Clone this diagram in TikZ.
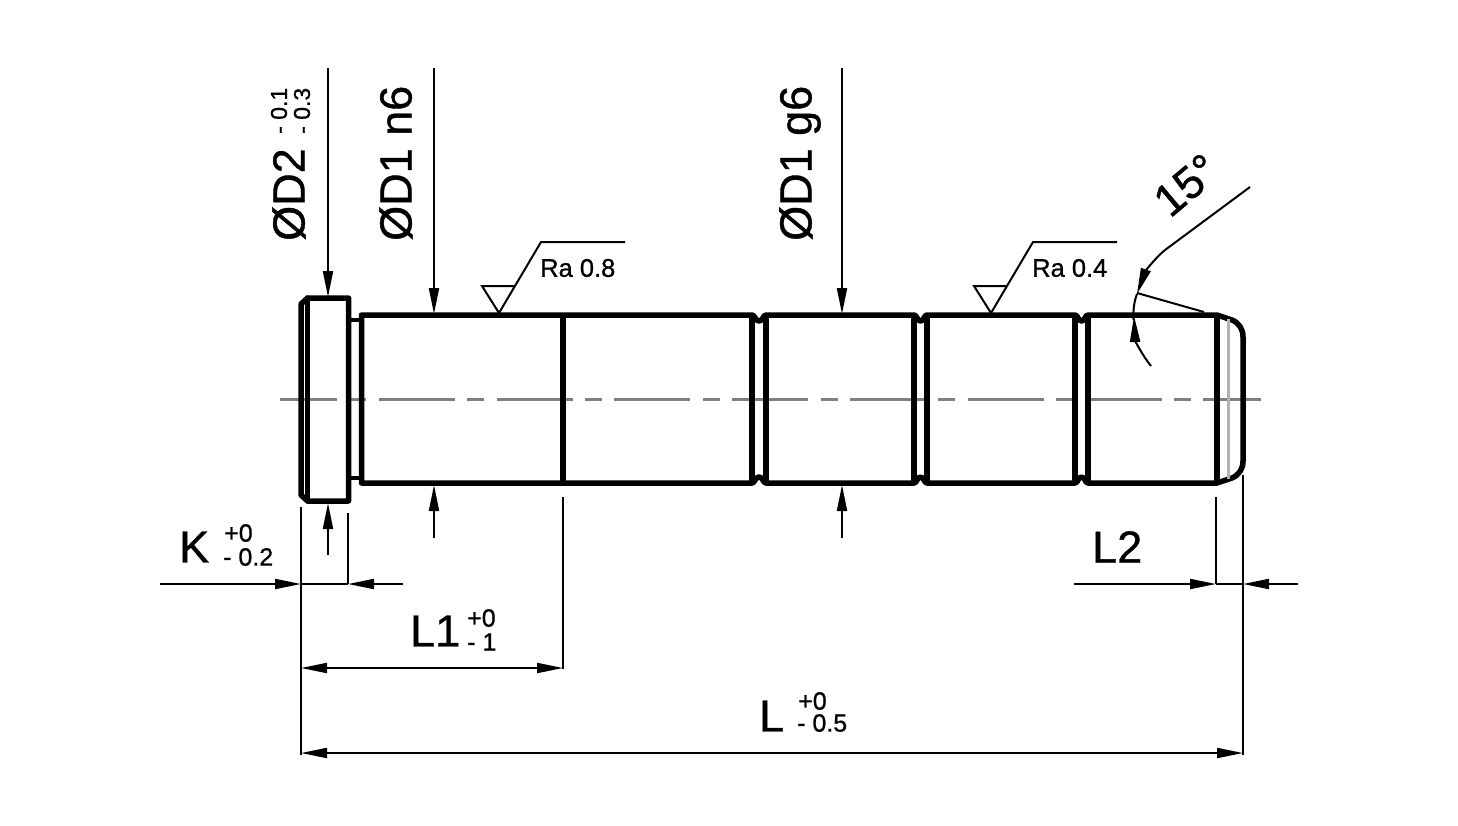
\documentclass[tikz,border=0pt]{standalone}
\usepackage{fontspec}
\setmainfont{Liberation Sans}
\newfontfamily\heavyfont{Liberation Sans}[FakeBold=0.9]
\usetikzlibrary{arrows.meta}
\tikzset{
 outline/.style={line width=5.5pt,line join=round,line cap=round,black},
 thin dim/.style={line width=2pt,black},
 arrowed/.style={thin dim,-{Triangle[length=26pt,width=10pt]}},
 both arrowed/.style={thin dim,{Triangle[length=26pt,width=10pt]}-{Triangle[length=26pt,width=10pt]}},
 big/.style={font=\heavyfont\fontsize{45}{45}\selectfont,inner sep=0pt},
 tol/.style={font=\heavyfont\fontsize{25}{25}\selectfont,inner sep=0pt},
 tolsmall/.style={font=\heavyfont\fontsize{23}{23}\selectfont,inner sep=0pt},
 ra/.style={font=\heavyfont\fontsize{25.5}{25.5}\selectfont,inner sep=0pt,anchor=west},
 axis/.style={line width=3pt,color=black!50},
}
\begin{document}
\begin{tikzpicture}[x=1pt,y=-1pt]
\useasboundingbox (0,0) rectangle (1458,825);
\fill[white] (0,0) rectangle (1458,825);
% centre line
\draw[axis,dash pattern=on 76pt off 12.4pt on 17pt off 12.4pt,dash phase=19pt] (280,399) -- (1261,399);
% head
\draw[outline] (348.5,298) -- (307.5,298) -- (301,304) -- (301,495) -- (307.5,501) -- (348.5,501) -- cycle;
\draw[outline] (307.5,298) -- (307.5,501);
% neck
\draw[line width=3.5pt] (348,320) -- (362,320) (348,478) -- (362,478);
% body
\draw[outline] (361.5,483) -- (361.5,315) -- (752,315) .. controls (755,315) and (755,321) .. (759,321) .. controls (763,321) and (763,315) .. (766,315)
 -- (914,315) .. controls (917,315) and (917,321) .. (920.5,321) .. controls (924,321) and (924,315) .. (927,315)
 -- (1075,315) .. controls (1078,315) and (1078,321) .. (1081.5,321) .. controls (1085,321) and (1085,315) .. (1088,315)
 -- (1217,315) -- (1232,320) .. controls (1239,323) and (1243,329) .. (1243,337)
 -- (1243,461) .. controls (1243,469) and (1239,475) .. (1232,478) -- (1217,483)
 -- (1088,483) .. controls (1085,483) and (1085,477) .. (1081.5,477) .. controls (1078,477) and (1078,483) .. (1075,483)
 -- (927,483) .. controls (924,483) and (924,477) .. (920.5,477) .. controls (917,477) and (917,483) .. (914,483)
 -- (766,483) .. controls (763,483) and (763,477) .. (759,477) .. controls (755,477) and (755,483) .. (752,483)
 -- cycle;
\foreach \x in {563,752,766,914,927,1075,1088,1217}
 \draw[outline] (\x,318) -- (\x,480);
\draw[line width=3pt,color=black!30] (1228,319) -- (1228,479);
% top diameter arrows
\draw[arrowed] (328,68) -- (328,297);
\draw[arrowed] (434,68) -- (434,314);
\draw[arrowed] (842,68) -- (842,314);
% bottom diameter arrows
\draw[arrowed] (328,555) -- (328,503);
\draw[arrowed] (434,538) -- (434,485);
\draw[arrowed] (842,538) -- (842,485);
% extension lines
\draw[thin dim] (301,507) -- (301,755);
\draw[thin dim] (348,513) -- (348,584);
\draw[thin dim] (563,497) -- (563,669);
\draw[thin dim] (1216,497) -- (1216,584);
\draw[thin dim] (1243,475) -- (1243,755);
% K
\draw[arrowed] (160,584) -- (301,584);
\draw[arrowed] (403,584) -- (348,584);
\draw[thin dim] (301,584) -- (348,584);
% L2
\draw[arrowed] (1074,584) -- (1216,584);
\draw[arrowed] (1298,584) -- (1243,584);
\draw[thin dim] (1216,584) -- (1243,584);
% L1, L
\draw[both arrowed] (301,668) -- (563,668);
\draw[both arrowed] (301,753) -- (1243,753);
% angle
\draw[thin dim] (1250,187) -- (1165,250);
\draw[arrowed] (1165,250) .. controls (1155,258) and (1145,272) .. (1137,294);
\draw[thin dim] (1137,294) .. controls (1134,302) and (1133,310) .. (1133.5,320);
\draw[arrowed] (1151,366) .. controls (1142,355) and (1135,340) .. (1134,316);
\draw[thin dim] (1137,293) -- (1204,312);
% roughness
\draw[thin dim] (515,286) -- (482,286) -- (499,313) -- (541,242) -- (625,242);
\draw[thin dim] (1007,286) -- (974,286) -- (991,313) -- (1033,242) -- (1117,242);
\node[ra] (ra1) at (540,268) {Ra 0.8};
\node[ra] (ra2) at (1032,268) {Ra 0.4};
% labels
\node[big,rotate=90,anchor=west] (d2) at (289,241) {ØD2};
\node[tolsmall,rotate=90,anchor=west] (d2a) at (279,134) {- 0.1};
\node[tolsmall,rotate=90,anchor=west] (d2b) at (302,134) {- 0.3};
\node[big,rotate=90,anchor=west] (d1n) at (396,241) {ØD1 n6};
\node[big,rotate=90,anchor=west] (d1g) at (800,241) {ØD1 g6};
\node[big,rotate=40,anchor=west] (ang) at (1160,207) {15°};
\node[big,anchor=west] (k) at (179,547) {K};
\node[tol,anchor=west] (ku) at (224,533) {+0};
\node[tol,anchor=west] (kl) at (223,557) {- 0.2};
\node[big,anchor=west] (l1) at (410,631) {L1};
\node[tol,anchor=west] (l1u) at (467,618) {+0};
\node[tol,anchor=west] (l1l) at (467,642) {- 1};
\node[big,anchor=west] (l) at (759,716) {L};
\node[tol,anchor=west] (lu) at (798,701) {+0};
\node[tol,anchor=west] (ll) at (797,723) {- 0.5};
\node[big,anchor=west] (l2) at (1092,547) {L2};
\end{tikzpicture}
\end{document}
